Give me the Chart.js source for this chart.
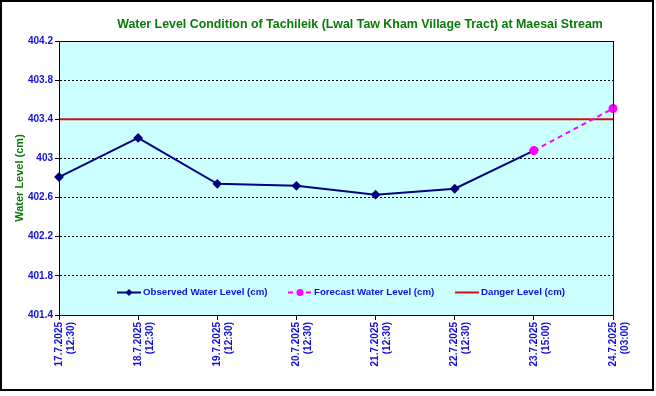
<!DOCTYPE html>
<html>
<head>
<meta charset="utf-8">
<script src="https://cdn.jsdelivr.net/npm/chart.js@4"></script>
<style>
body { margin: 0; background: #fff; }
#wrap { width: 656px; height: 396px; position: relative; }
</style>
</head>
<body>
<div id="wrap"><canvas id="levelChart" width="656" height="396"></canvas></div>
<script>
var fechas = [
    ['17.7.2025', '(12:30)'],
    ['18.7.2025', '(12:30)'],
    ['19.7.2025', '(12:30)'],
    ['20.7.2025', '(12:30)'],
    ['21.7.2025', '(12:30)'],
    ['22.7.2025', '(12:30)'],
    ['23.7.2025', '(15:00)'],
    ['24.7.2025', '(03:00)']
];
var observado = [402.81, 403.21, 402.74, 402.72, 402.63, 402.69, 403.08, null];
var pronostico = [null, null, null, null, null, null, 403.08, 403.51];
var peligro = [403.4, 403.4, 403.4, 403.4, 403.4, 403.4, 403.4, 403.4];
var tituloGrafico = 'Water Level Condition of Tachileik (Lwal Taw Kham Village Tract) at Maesai Stream';

var azul = '#1010e0';
var verde = '#0a7a0a';

// fondo celeste del area del grafico y borde exterior
var fondoPlugin = {
    id: 'fondo',
    beforeDraw: function(chart) {
        var ctx = chart.ctx;
        var a = chart.chartArea;
        ctx.save();
        ctx.fillStyle = '#ffffff';
        ctx.fillRect(0, 0, chart.width, chart.height);
        ctx.fillStyle = '#ccffff';
        ctx.fillRect(a.left, a.top, a.right - a.left, a.bottom - a.top);
        ctx.restore();
    },
    afterDraw: function(chart) {
        var ctx = chart.ctx;
        var a = chart.chartArea;
        ctx.save();
        ctx.strokeStyle = '#000';
        ctx.lineWidth = 1;
        ctx.strokeRect(a.left + 0.5, a.top + 0.5, a.right - a.left, a.bottom - a.top);
        ctx.lineWidth = 2;
        ctx.strokeRect(1, 1, 652, 389);

        ctx.fillStyle = verde;
        ctx.font = "bold 12.4px 'Liberation Sans', Arial, sans-serif";
        ctx.textAlign = 'center';
        ctx.textBaseline = 'middle';
        ctx.fillText(tituloGrafico, 360, 25);
        ctx.restore();
    }
};

// leyenda dentro del area del grafico
var leyendaPlugin = {
    id: 'leyenda',
    afterDatasetsDraw: function(chart) {
        var ctx = chart.ctx;
        var y = 292.5;
        var items = [
            { ds: chart.data.datasets[0], x: 117, texto: 'Observed Water Level (cm)' },
            { ds: chart.data.datasets[1], x: 288, texto: 'Forecast Water Level (cm)' },
            { ds: chart.data.datasets[2], x: 455, texto: 'Danger Level (cm)' }
        ];
        ctx.save();
        for (var i = 0; i < items.length; i++) {
            var ds = items[i].ds;
            var x = items[i].x;
            ctx.strokeStyle = ds.borderColor;
            ctx.lineWidth = ds.borderWidth;
            ctx.setLineDash(ds.borderDash || []);
            ctx.beginPath();
            ctx.moveTo(x, y);
            ctx.lineTo(x + 24, y);
            ctx.stroke();
            ctx.setLineDash([]);
            if (ds.pointRadius > 0) {
                ctx.fillStyle = ds.pointBackgroundColor;
                ctx.beginPath();
                if (ds.pointStyle == 'rectRot') {
                    var r = ds.pointRadius;
                    ctx.moveTo(x + 12, y - r);
                    ctx.lineTo(x + 12 + r, y);
                    ctx.lineTo(x + 12, y + r);
                    ctx.lineTo(x + 12 - r, y);
                    ctx.closePath();
                } else {
                    ctx.arc(x + 12, y, ds.pointRadius, 0, Math.PI * 2);
                }
                ctx.fill();
            }
            ctx.fillStyle = azul;
            ctx.font = "bold 9.7px 'Liberation Sans', Arial, sans-serif";
            ctx.textAlign = 'left';
            ctx.textBaseline = 'middle';
            ctx.fillText(items[i].texto, x + 26, y);
        }
        ctx.restore();
    }
};

var ctx = document.getElementById('levelChart').getContext('2d');

new Chart(ctx, {
    type: 'line',
    data: {
        labels: fechas,
        datasets: [
            {
                label: 'Observed Water Level (cm)',
                data: observado,
                borderColor: '#000080',
                backgroundColor: '#000080',
                pointBackgroundColor: '#000080',
                pointBorderColor: '#000080',
                pointStyle: 'rectRot',
                pointRadius: 3.5,
                borderWidth: 2,
                tension: 0,
                order: 2
            },
            {
                label: 'Forecast Water Level (cm)',
                data: pronostico,
                borderColor: '#ff00ff',
                backgroundColor: '#ff00ff',
                pointBackgroundColor: '#ff00ff',
                pointBorderColor: '#ff00ff',
                pointStyle: 'circle',
                pointRadius: 3.5,
                borderWidth: 2,
                borderDash: [5, 4],
                tension: 0,
                order: 1
            },
            {
                label: 'Danger Level (cm)',
                data: peligro,
                borderColor: '#cc1111',
                backgroundColor: '#cc1111',
                pointRadius: 0,
                borderWidth: 2,
                tension: 0,
                order: 3
            }
        ]
    },
    options: {
        responsive: false,
        animation: false,
        layout: {
            padding: { top: 41, right: 43, left: 0, bottom: 0 }
        },
        scales: {
            x: {
                offset: false,
                afterFit: function(scale) { scale.height = 81; },
                grid: {
                    drawOnChartArea: false,
                    drawTicks: true,
                    tickLength: 5,
                    tickColor: '#000',
                    offset: false
                },
                border: { color: '#000', width: 1 },
                ticks: {
                    color: azul,
                    font: { family: "'Liberation Sans', Arial, sans-serif", size: 10, weight: 'bold', lineHeight: 1.2 },
                    maxRotation: 90,
                    minRotation: 90,
                    autoSkip: false,
                    padding: 2
                }
            },
            y: {
                min: 401.4,
                max: 404.2,
                afterFit: function(scale) { scale.width = 59; },
                afterBuildTicks: function(scale) {
                    var t = [];
                    for (var i = 0; i <= 7; i++) {
                        t.push({ value: Math.round((401.4 + i * 0.4) * 10) / 10 });
                    }
                    scale.ticks = t;
                },
                grid: {
                    color: '#000',
                    lineWidth: 1,
                    tickLength: 4,
                    tickColor: '#000',
                    tickBorderDash: [],
                    drawTicks: true
                },
                border: { color: '#000', width: 1, dash: [2, 2] },
                ticks: {
                    color: azul,
                    font: { family: "'Liberation Sans', Arial, sans-serif", size: 10, weight: 'bold' },
                    padding: 2,
                    callback: function(v) { return String(Math.round(v * 10) / 10); }
                },
                title: {
                    display: true,
                    text: 'Water Level (cm)',
                    color: verde,
                    font: { family: "'Liberation Sans', Arial, sans-serif", size: 11, weight: 'bold' },
                    padding: { top: 13, bottom: 0 }
                }
            }
        },
        plugins: {
            legend: { display: false },
            title: { display: false },
            tooltip: { enabled: false }
        }
    },
    plugins: [fondoPlugin, leyendaPlugin]
});
</script>
</body>
</html>
